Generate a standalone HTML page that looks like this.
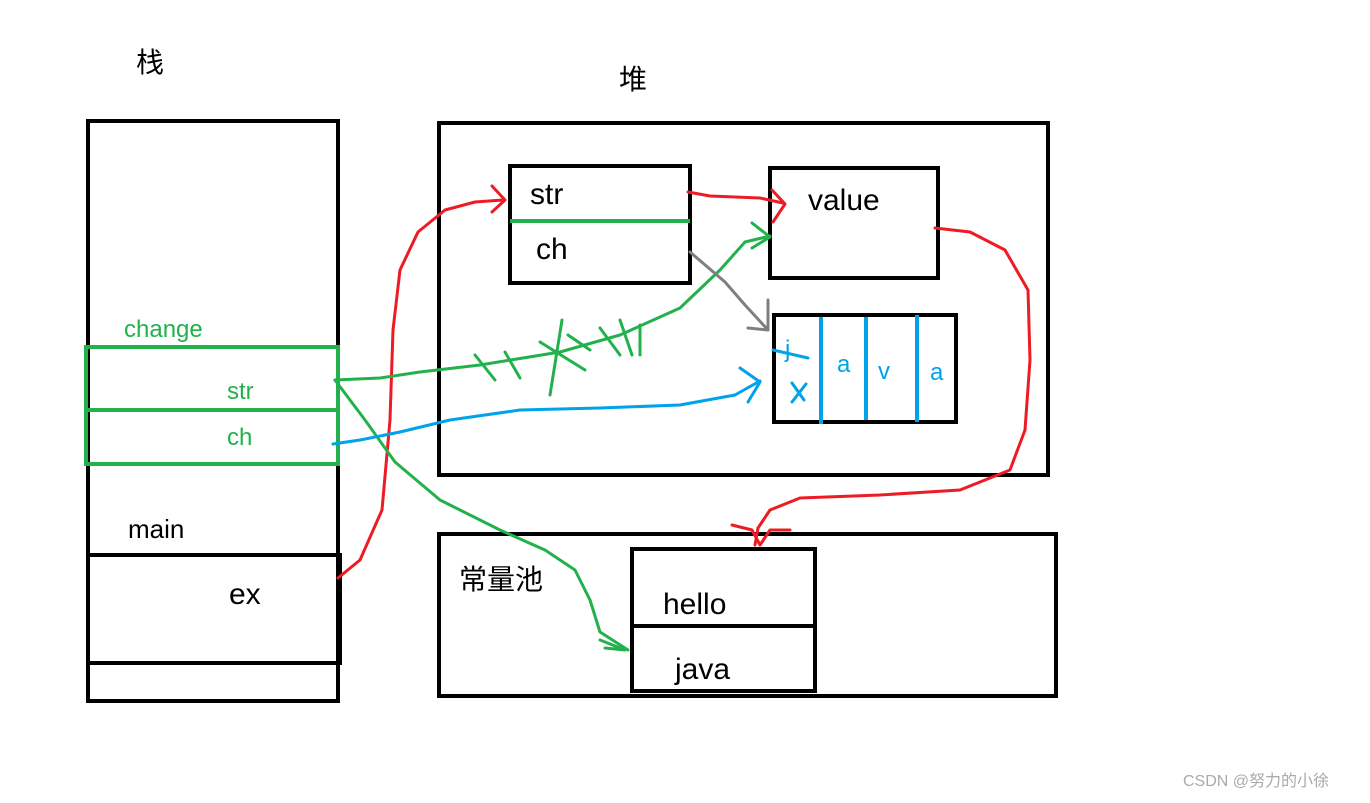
<!DOCTYPE html>
<html><head><meta charset="utf-8"><style>
body{margin:0;background:#fff;width:1370px;height:798px;overflow:hidden}
text{font-family:"Liberation Sans","Noto Sans CJK SC",sans-serif}
</style></head><body>
<svg width="1370" height="798" viewBox="0 0 1370 798" xmlns="http://www.w3.org/2000/svg">
<g fill="none" stroke="#000" stroke-width="4">
<rect x="88" y="121" width="250" height="580"/>
<rect x="88" y="555" width="252" height="108"/>
<rect x="439" y="123" width="609" height="352"/>
<rect x="510" y="166" width="180" height="117"/>
<rect x="770" y="168" width="168" height="110"/>
<rect x="774" y="315" width="182" height="107"/>
<rect x="439" y="534" width="617" height="162"/>
<rect x="632" y="549" width="183" height="142"/>
<line x1="632" y1="626" x2="817" y2="626"/>
</g>
<g fill="none" stroke="#22b14c" stroke-width="4">
<rect x="86" y="347" width="252" height="117"/>
<line x1="86" y1="410" x2="338" y2="410"/>
<line x1="510" y1="221" x2="690" y2="221"/>
</g>
<g stroke="#00a2e8" stroke-width="4">
<line x1="821" y1="317" x2="821" y2="424"/>
<line x1="866" y1="317" x2="866" y2="420"/>
<line x1="917" y1="315" x2="917" y2="422"/>
</g>
<g fill="none" stroke-width="3" stroke-linecap="round" stroke-linejoin="round">
<path stroke="#ed1c24" d="M338,578 L360,560 L382,510 L390,420 L393,330 L400,270 L418,232 L445,210 L475,202 L503,200 M492,186 L505,200 L492,212"/>
<path stroke="#ed1c24" d="M688,192 L710,196 L760,198 L783,203 M772,190 L785,204 L773,222"/>
<path stroke="#ed1c24" d="M935,228 L970,232 L1005,250 L1028,290 L1030,360 L1025,430 L1010,470 L960,490 L880,495 L800,498 L770,510 L758,528 L755,545 M732,525 L752,530 L760,545 L770,530 L790,530"/>
<path stroke="#22b14c" d="M335,380 L380,378 L420,372 L480,365 L560,352 L620,335 L680,308 L720,270 L745,242 L770,236 M752,223 L770,237 L752,248"/>
<path stroke="#22b14c" d="M475,355 L495,380 M505,352 L520,378 M540,342 L585,370 M562,320 L550,395 M600,328 L620,355 M620,320 L632,355 M568,335 L590,350 M640,325 L640,355"/>
<path stroke="#22b14c" d="M335,380 L365,420 L395,462 L440,500 L500,530 L545,550 L575,570 L590,600 L600,632 L628,650 M600,640 L625,650 L605,648"/>
<path stroke="#00a2e8" d="M333,444 L360,440 L400,432 L450,420 L520,410 L600,408 L680,405 L735,395 L760,381 M740,368 L760,382 L748,402"/>
<path stroke="#00a2e8" d="M773,350 L808,358 M792,383 L804,400 M806,384 L792,402"/>
<path stroke="#7f7f7f" d="M690,252 L725,282 L745,305 L768,330 M768,300 L768,330 L748,328"/>
</g>
<g font-size="28" fill="#000">
<text x="136" y="72">栈</text>
<text x="619" y="89">堆</text>
<text x="128" y="538" font-size="26">main</text>
<text x="229" y="604" font-size="30">ex</text>
<text x="530" y="204" font-size="30">str</text>
<text x="536" y="259" font-size="30">ch</text>
<text x="808" y="210" font-size="30">value</text>
<text x="459" y="589">常量池</text>
<text x="663" y="614" font-size="30">hello</text>
<text x="675" y="679" font-size="30">java</text>
</g>
<g fill="#22b14c" font-size="24">
<text x="124" y="337">change</text>
<text x="227" y="399">str</text>
<text x="227" y="445">ch</text>
</g>
<g fill="#00a2e8" font-size="24">
<text x="785" y="357">j</text>
<text x="837" y="372">a</text>
<text x="878" y="379">v</text>
<text x="930" y="380">a</text>
</g>
<text x="1183" y="786" font-size="16" fill="#aaa">CSDN @努力的小徐</text>
</svg>
</body></html>
